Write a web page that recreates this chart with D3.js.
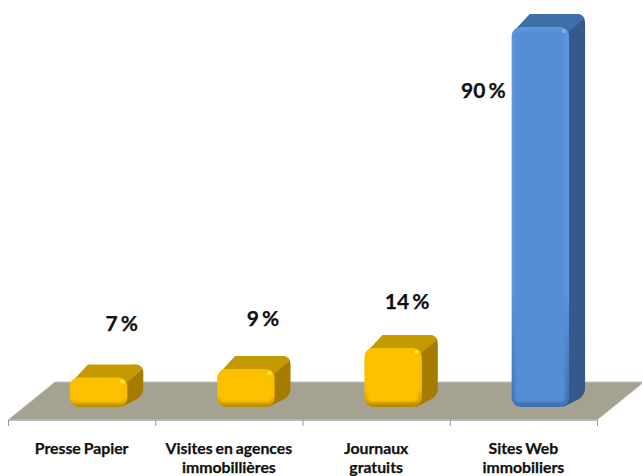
<!DOCTYPE html>
<html>
<head>
<meta charset="utf-8">
<script src="https://cdn.jsdelivr.net/npm/d3@7"></script>
<style>
  html, body { margin: 0; padding: 0; background: #fff; }
  text { font-family: Lato, "Open Sans", sans-serif; font-weight: 700; fill: #111; stroke: #111; stroke-width: 0.25; }
</style>
</head>
<body>
<svg id="chart" width="642" height="476"></svg>
<script>
var categories = [["Presse Papier"], ["Visites en agences", "immobillières"], ["Journaux", "gratuits"], ["Sites Web", "immobiliers"]];
var values = [7, 9, 14, 90];
var valueLabels = ["7 %", "9 %", "14 %", "90 %"];
var tickSteps = [0, 1, 2, 3, 4];
var barStyles = ["gold", "gold", "gold", "blue"];

// hand placed labels, relative to the top of the front face / bar centre
var labelDx = [23, 17, 14, -57];
var labelDy = [-46, -43, -39, 71];

var depthX = 16, depthY = 13;
var floorFront = 420, floorBack = 382, floorShift = 47;
var baseY = 407;

var svg = d3.select("#chart");
var x = d3.scaleLinear().domain([0, 4]).range([8, 597]);
var band = d3.scaleBand().domain(d3.range(values.length)).range([8, 597])
    .paddingInner(0.61).paddingOuter(0.305);
var y = d3.scaleLinear().domain([0, 90]).range([baseY, 27]);

var palette = {
    gold: { front: "#FFC000", hi: "#F8C000", low: "#B58900", spot: "#FFE23A", top: "#C49A00", side: "#A67C00" },
    blue: { front: "#558ED5", hi: "#5C96DC", low: "#3F70B2", spot: "#7DB0EA", top: "#3F6FA8", side: "#35598A" }
};

var defs = svg.append("defs");
defs.append("filter").attr("id", "soft")
    .attr("x", "-20%").attr("y", "-20%").attr("width", "140%").attr("height", "140%")
    .append("feGaussianBlur").attr("stdDeviation", 1.5);
defs.append("filter").attr("id", "faint").append("feGaussianBlur").attr("stdDeviation", 0.6);

Object.keys(palette).forEach(function(k) {
    var grad = defs.append("linearGradient").attr("id", "edge-" + k)
        .attr("x1", 0).attr("y1", 0).attr("x2", 0).attr("y2", 1);
    grad.append("stop").attr("offset", "0%").attr("stop-color", palette[k].hi);
    grad.append("stop").attr("offset", "70%").attr("stop-color", palette[k].hi);
    grad.append("stop").attr("offset", "100%").attr("stop-color", palette[k].low);
});

// floor
svg.append("path")
    .attr("d", d3.line()([
        [x(0), floorFront],
        [x(4), floorFront],
        [x(4) + floorShift, floorBack],
        [x(0) + floorShift, floorBack]
    ]) + "Z")
    .attr("fill", "#A6A292")
    .attr("stroke", "#C4C2B8")
    .attr("stroke-width", 1);

// axis, only the ticks
var axis = d3.axisBottom(x).tickValues(tickSteps).tickSize(6).tickFormat("");
var axisG = svg.append("g").attr("transform", "translate(0," + floorFront + ")").call(axis);
axisG.select(".domain").attr("stroke", "#BDBDBD");
axisG.selectAll(".tick line").attr("stroke", "#9A9A9A");

// bars
var bars = svg.append("g").selectAll("g")
    .data(values)
    .enter().append("g");

bars.each(function(d, i) {
    var g = d3.select(this);
    var style = barStyles[i], c = palette[style];
    var x0 = band(i) + 17, w = band.bandwidth();
    var yTop = y(d), h = baseY - yTop;
    var x1 = x0 + w;
    var bx = x1 + depthX, by = yTop - depthY;

    // side face
    g.append("path")
        .attr("d", "M" + (x1 - 8) + "," + yTop +
            "L" + (bx - 9) + "," + by +
            "Q" + bx + "," + by + " " + bx + "," + (by + 9) +
            "L" + bx + "," + (baseY - depthY - 6) +
            "Q" + bx + "," + (baseY - depthY + 1) + " " + (bx - 6) + "," + (baseY - depthY + 5) +
            "L" + (x1 - 6) + "," + baseY + "Z")
        .attr("fill", c.side);

    // top face
    g.append("path")
        .attr("d", "M" + (x0 + 1) + "," + (yTop + 6) +
            "Q" + (x0 + 2) + "," + (yTop + 3) + " " + (x0 + 6) + "," + yTop +
            "L" + (x0 + depthX + 2) + "," + by +
            "L" + (bx - 9) + "," + by +
            "Q" + (bx - 2) + "," + by + " " + (bx - 1) + "," + (by + 5) +
            "L" + (x1 - 3) + "," + (yTop + 7) + "Z")
        .attr("fill", c.top);

    // front face with a soft bevel
    g.append("rect")
        .attr("x", x0).attr("y", yTop)
        .attr("width", w).attr("height", h)
        .attr("rx", 9).attr("ry", 9)
        .attr("fill", "url(#edge-" + style + ")");
    g.append("rect")
        .attr("x", x0 + 3).attr("y", yTop + 4)
        .attr("width", w - 7).attr("height", Math.max(h - 9, 1))
        .attr("rx", 3).attr("ry", 3)
        .attr("fill", c.front)
        .attr("filter", "url(#soft)");

    // highlight on the top right corner
    g.append("ellipse")
        .attr("cx", x1 - 5).attr("cy", yTop + 4)
        .attr("rx", 2.5).attr("ry", 2)
        .attr("fill", c.spot)
        .attr("filter", "url(#faint)");
});

// value labels
svg.append("g").selectAll("text")
    .data(values)
    .enter().append("text")
    .attr("x", function(d, i) { return band(i) + 17 + band.bandwidth() / 2 + labelDx[i]; })
    .attr("y", function(d, i) { return y(d) + labelDy[i]; })
    .attr("text-anchor", "middle")
    .attr("font-size", 21)
    .attr("word-spacing", -2)
    .text(function(d, i) { return valueLabels[i]; });

// category labels
var catLabels = svg.append("g").selectAll("text")
    .data(categories)
    .enter().append("text")
    .attr("text-anchor", "middle")
    .attr("font-size", 15.8)
    .attr("word-spacing", -1)
    .attr("y", 454);

catLabels.selectAll("tspan")
    .data(function(d, i) { return d.map(function(t) { return { t: t, i: i }; }); })
    .enter().append("tspan")
    .attr("x", function(d) { return band(d.i) + band.bandwidth() / 2; })
    .attr("dy", function(d, j) { return j ? 18.5 : 0; })
    .text(function(d) { return d.t; });
</script>
</body>
</html>
